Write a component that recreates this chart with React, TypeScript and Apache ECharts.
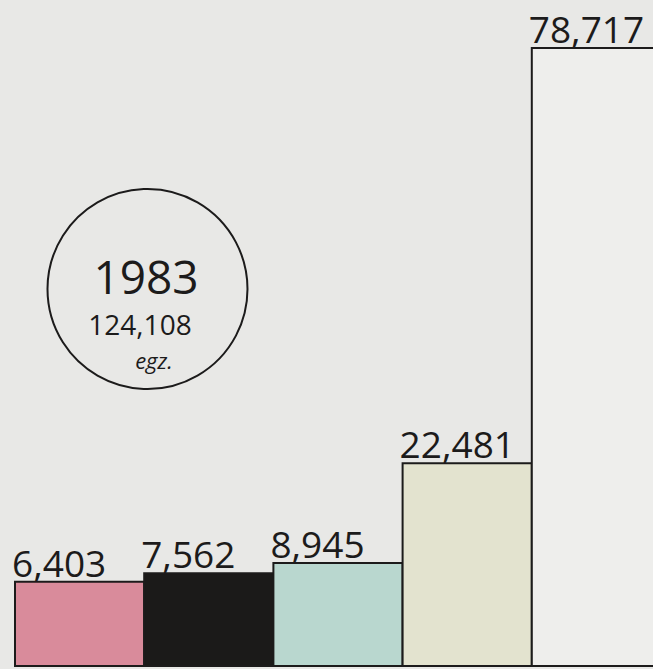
import React, { useEffect, useRef } from "react";
import * as echarts from "echarts";

// ---- data ----
const categories = ["1", "2", "3", "4", "5"];
const values = [6403, 7562, 8945, 22481, 78717];
const yearLabel = "1983";
const totalLabel = "124,108";
const unitLabel = "egz.";

// ---- styling ----
const palette = ["#d98b9b", "#1b1a19", "#b9d7cf", "#e3e3cf", "#eeeeec"];
const INK = "#1c1b1b";
const BG = "#e8e8e6";
const FONT = "'Open Sans', 'DejaVu Sans', sans-serif";
const AXIS_MIN = -5000;
const AXIS_MAX = 80000;

const fmt = (v: number) => v.toLocaleString("en-US");

export default function App() {
  const ref = useRef<HTMLDivElement>(null);

  useEffect(() => {
    if (!ref.current) return;
    const chart = echarts.init(ref.current, null, { renderer: "svg" });
    const option: any = {
      animation: false,
      backgroundColor: BG,
      grid: {
        left: 15,
        top: 38.5,
        bottom: 3,
        width: 646,
        containLabel: false,
        outerBoundsMode: "none",
      },
      xAxis: {
        type: "category",
        data: categories,
        boundaryGap: true,
        axisLine: { show: true, lineStyle: { color: INK, width: 2 } },
        axisTick: { show: false },
        axisLabel: { show: false },
        splitLine: { show: false },
      },
      yAxis: {
        type: "value",
        min: AXIS_MIN,
        max: AXIS_MAX,
        show: false,
        splitLine: { show: false },
      },
      series: [
        {
          type: "custom",
          clip: false,
          data: values.map((v, i) => [i, v]),
          renderItem: (params: any, api: any) => {
            const i = api.value(0);
            const v = api.value(1);
            const top = api.coord([i, v]);
            const base = api.coord([i, AXIS_MIN]);
            const w = api.size([1, 0])[0];
            const x = top[0] - w / 2;
            return {
              type: "group",
              children: [
                {
                  type: "rect",
                  shape: { x, y: top[1], width: w, height: base[1] - top[1] },
                  style: { fill: palette[params.dataIndex], stroke: INK, lineWidth: 2 },
                },
                {
                  type: "text",
                  style: {
                    text: fmt(v),
                    x: x - 3,
                    y: top[1] - 1,
                    align: "left",
                    verticalAlign: "bottom",
                    fontSize: 37,
                    fontFamily: FONT,
                    fill: INK,
                  },
                },
              ],
            };
          },
        },
      ],
      graphic: [
        {
          type: "circle",
          shape: { cx: 147.5, cy: 289, r: 100 },
          style: { fill: "none", stroke: INK, lineWidth: 2 },
        },
        {
          type: "text",
          style: {
            text: yearLabel,
            x: 146,
            y: 276,
            align: "center",
            verticalAlign: "middle",
            fontSize: 46,
            fontFamily: FONT,
            fill: INK,
          },
        },
        {
          type: "text",
          style: {
            text: totalLabel,
            x: 140,
            y: 324,
            align: "center",
            verticalAlign: "middle",
            fontSize: 28,
            fontFamily: FONT,
            fill: INK,
          },
        },
        {
          type: "text",
          style: {
            text: unitLabel,
            x: 154,
            y: 360,
            align: "center",
            verticalAlign: "middle",
            fontSize: 22,
            fontStyle: "italic",
            fontFamily: FONT,
            fill: INK,
          },
        },
      ],
    };
    chart.setOption(option);
    return () => chart.dispose();
  }, []);

  return (
    <div
      ref={ref}
      style={{ position: "fixed", left: 0, top: 0, width: 653, height: 669 }}
    />
  );
}
